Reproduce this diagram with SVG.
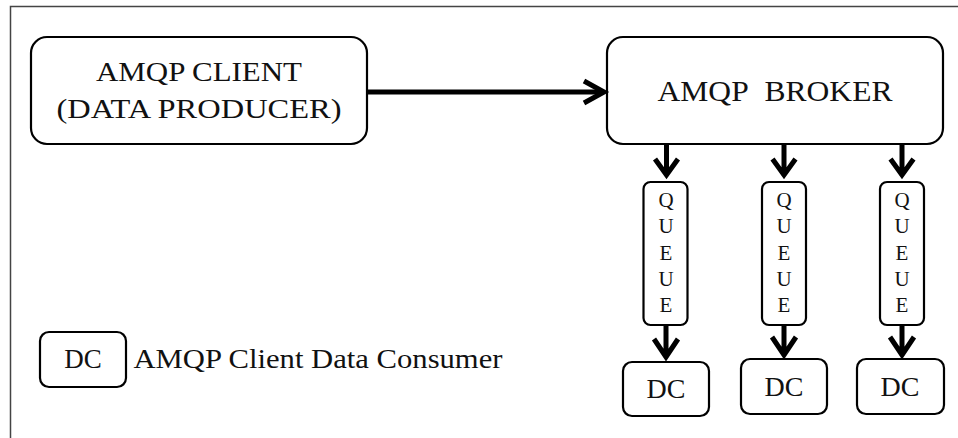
<svg xmlns="http://www.w3.org/2000/svg" width="958" height="438" viewBox="0 0 958 438">
<style>
.box{fill:#fff;stroke:#000;stroke-width:2.2}
.t{font-family:"Liberation Serif","DejaVu Serif",serif;fill:#111;text-anchor:middle}
.q{font-size:21px}
.c{fill:none;stroke:#000;stroke-width:5;stroke-linejoin:miter;stroke-linecap:butt}
</style>
<rect width="958" height="438" fill="#fff"/>
<path d="M10.5 438 V6.5 H958" fill="none" stroke="#444" stroke-width="1.5"/>
<g id="client">
<rect class="box" x="31" y="37" width="336" height="107" rx="16"/>
<text class="t" x="199" y="81" font-size="28" textLength="206" lengthAdjust="spacingAndGlyphs">AMQP CLIENT</text>
<text class="t" x="199" y="118" font-size="28" textLength="285" lengthAdjust="spacingAndGlyphs">(DATA PRODUCER)</text>
</g>
<g id="broker">
<rect class="box" x="607" y="37" width="336" height="107" rx="16"/>
<text class="t" x="775" y="101" font-size="29" textLength="235" lengthAdjust="spacingAndGlyphs">AMQP&#160; BROKER</text>
</g>
<g id="queue1">
<rect class="box" x="643.5" y="182" width="44" height="143" rx="7"/>
<g class="t q"><text x="666" y="207">Q</text><text x="666" y="233">U</text><text x="666" y="260">E</text><text x="666" y="286">U</text><text x="666" y="312">E</text></g>
</g>
<g id="queue2">
<rect class="box" x="762" y="182" width="44" height="143" rx="7"/>
<g class="t q"><text x="784" y="207">Q</text><text x="784" y="233">U</text><text x="784" y="260">E</text><text x="784" y="286">U</text><text x="784" y="312">E</text></g>
</g>
<g id="queue3">
<rect class="box" x="880" y="182" width="44" height="143" rx="7"/>
<g class="t q"><text x="902" y="207">Q</text><text x="902" y="233">U</text><text x="902" y="260">E</text><text x="902" y="286">U</text><text x="902" y="312">E</text></g>
</g>
<g id="dc1">
<rect class="box" x="623" y="362" width="86" height="54" rx="9"/>
<text class="t" x="666" y="398" font-size="28">DC</text>
</g>
<g id="dc2">
<rect class="box" x="741" y="359" width="86" height="55" rx="9"/>
<text class="t" x="784" y="396" font-size="28">DC</text>
</g>
<g id="dc3">
<rect class="box" x="857" y="359" width="87" height="55" rx="9"/>
<text class="t" x="900" y="396" font-size="28">DC</text>
</g>
<g id="legend">
<rect class="box" x="40" y="332" width="86" height="55" rx="9"/>
<text class="t" x="83" y="368" font-size="27">DC</text>
<text class="t" x="318" y="368" font-size="27" textLength="369" lengthAdjust="spacingAndGlyphs">AMQP Client Data Consumer</text>
</g>
<g id="connectors">
<path class="c" d="M367 92 H603"/>
<path class="c" d="M584 81 L604 92 L584 103"/>
<path class="c" d="M666.5 144 V175 M655 159 L666.5 175 L678 159"/>
<path class="c" d="M784 144 V175 M772.5 159 L784 175 L795.5 159"/>
<path class="c" d="M902 144 V175 M890.5 159 L902 175 L913.5 159"/>
<path class="c" d="M666 325 V357 M654 339 L666 357 L678 339"/>
<path class="c" d="M784 325 V355 M772 337 L784 355 L796 337"/>
<path class="c" d="M902 325 V355 M890 337 L902 355 L914 337"/>
</g>
</svg>
